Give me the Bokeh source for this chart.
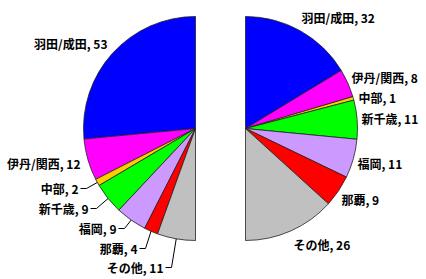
import math
from bokeh.plotting import figure
from bokeh.models import Range1d, ColumnDataSource
from bokeh.core.properties import value
from bokeh.embed import file_html
from bokeh.resources import INLINE

# Airport groups and their shares for the two half-pies
categories = ["羽田/成田", "伊丹/関西", "中部", "新千歳", "福岡", "那覇", "その他"]
left_values = [53, 12, 2, 9, 9, 4, 11]
right_values = [32, 8, 1, 11, 11, 9, 26]
colors = ["#0000FF", "#FF00FF", "#FFCC00", "#00FF00", "#CC99FF", "#FF0000", "#C0C0C0"]

W, H = 426, 279
R = 112
LC = (195, 128)   # left half-pie centre (screen px)
RC = (245, 128)   # right half-pie centre (screen px)

# label anchors in screen px: (x, y); left labels are right-aligned
left_label_pos = [(107, 43), (80, 163), (78, 188), (88, 208), (116, 228), (137, 248), (163, 267)]
left_leader = [False, False, True, True, True, True, True]
right_label_pos = [(301, 17), (351, 77), (358, 97), (361, 118), (357, 163), (341, 199), (293, 244)]

FONT = value("Noto Sans CJK JP")

p = figure(width=W, height=H, x_range=Range1d(0, W), y_range=Range1d(0, H),
           toolbar_location=None, output_backend="svg", min_border=0)
p.axis.visible = False
p.grid.visible = False
p.outline_line_color = None
p.background_fill_color = "white"
p.border_fill_color = "white"


def sy(y):
    return H - y


def half_pie(vals, centre, sign):
    total = float(sum(vals))
    starts, ends, mids = [], [], []
    cum = 0.0
    for v in vals:
        a0 = 90 + sign * 180 * cum / total
        cum += v
        a1 = 90 + sign * 180 * cum / total
        mids.append(90 + sign * 180 * (cum - v / 2) / total)
        lo, hi = (a0, a1) if sign > 0 else (a1, a0)
        starts.append(math.radians(lo))
        ends.append(math.radians(hi))
    src = ColumnDataSource(dict(start=starts, end=ends, color=colors))
    p.wedge(x=centre[0], y=sy(centre[1]), radius=R, start_angle="start", end_angle="end",
            fill_color="color", line_color="#222222", line_width=0.8, source=src)
    return mids


lmids = half_pie(left_values, LC, +1)
rmids = half_pie(right_values, RC, -1)

# left labels with leader lines
lx, ly, lt = [], [], []
for cat, v, (x, y), lead, m in zip(categories, left_values, left_label_pos, left_leader, lmids):
    lx.append(x)
    ly.append(sy(y))
    lt.append(f"{cat}, {v}")
    if lead:
        ax = LC[0] + R * math.cos(math.radians(m))
        ay = LC[1] - R * math.sin(math.radians(m))
        p.line([x + 2, x + 8, ax], [sy(y), sy(y), sy(ay)], line_color="black", line_width=1)
p.text(lx, ly, text=lt, text_align="right", text_baseline="middle",
       text_font=FONT, text_font_size="12px", text_font_style="bold", text_color="black")

rx = [pos[0] for pos in right_label_pos]
ry = [sy(pos[1]) for pos in right_label_pos]
rt = [f"{c}, {v}" for c, v in zip(categories, right_values)]
p.text(rx, ry, text=rt, text_align="left", text_baseline="middle",
       text_font=FONT, text_font_size="12px", text_font_style="bold", text_color="black")

open("out.html", "w").write(file_html(p, INLINE))
